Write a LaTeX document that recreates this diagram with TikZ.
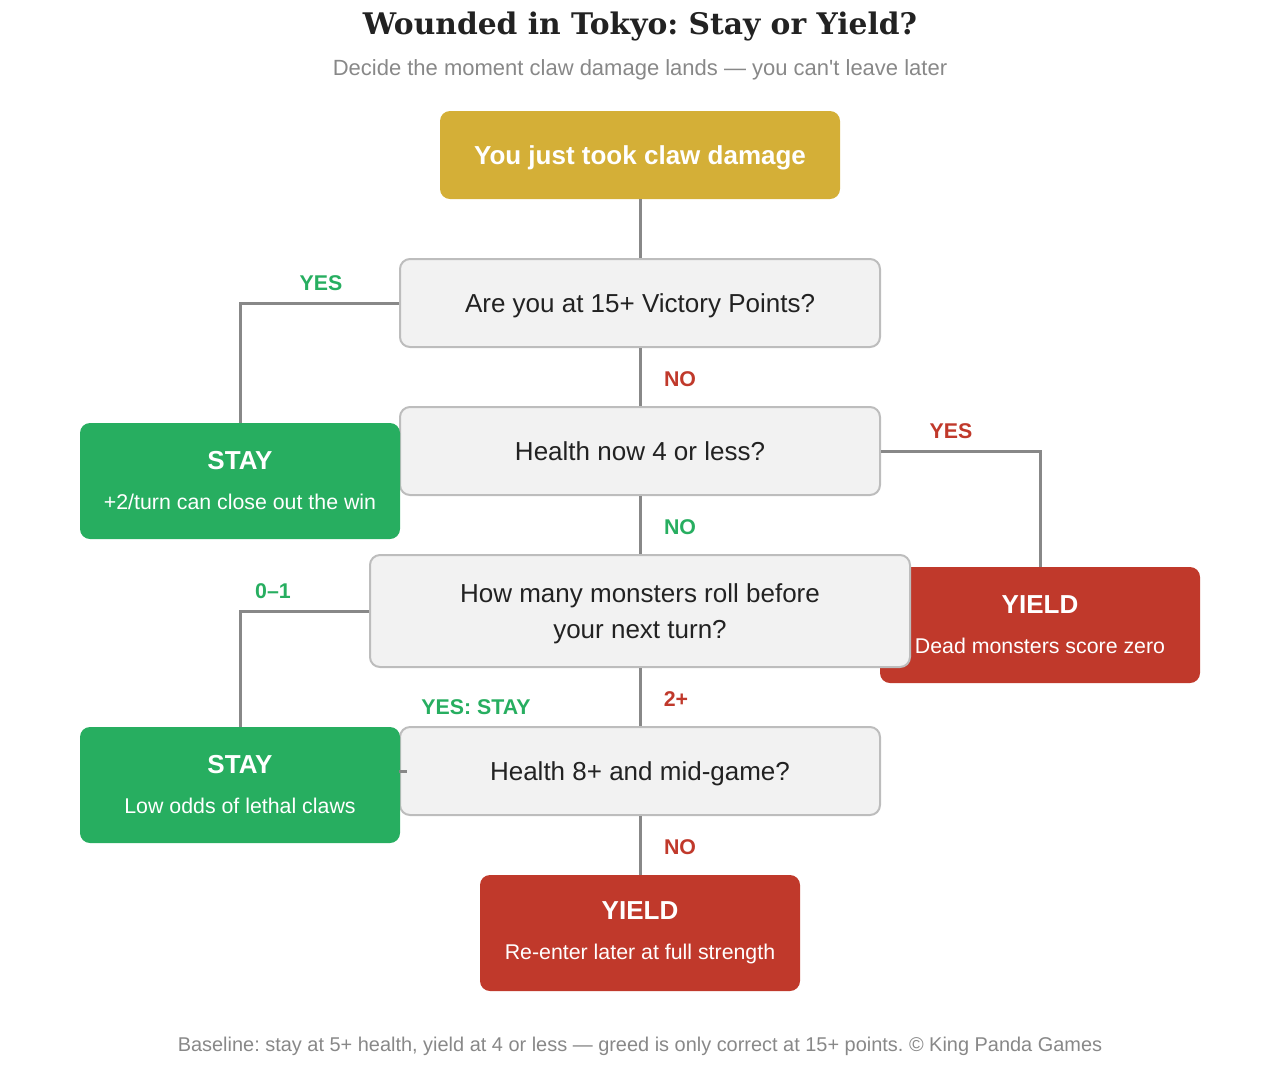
\documentclass[tikz,border=0pt]{standalone}
\usepackage{fontspec}
\setmainfont{Liberation Sans}
\newfontfamily\headfont{DejaVu Serif}
\frenchspacing
\usetikzlibrary{positioning}
\definecolor{wtGold}{HTML}{D4AF37}
\definecolor{wtGreen}{HTML}{27AE60}
\definecolor{wtRed}{HTML}{C0392B}
\definecolor{wtBox}{HTML}{F2F2F2}
\definecolor{wtBorder}{HTML}{BDBDBD}
\definecolor{wtLine}{HTML}{888888}
\definecolor{wtInk}{HTML}{222222}
\definecolor{wtMuted}{HTML}{888888}

\begin{document}
\begin{tikzpicture}[x=0.75pt, y=-0.75pt,
    question/.style={draw=wtBorder, line width=1.5pt, rounded corners=7.5pt, fill=wtBox, text=wtInk, minimum width=360pt, minimum height=66pt, align=center, inner sep=0pt, text depth=0pt, font=\fontsize{19.5}{27}\selectfont},
    start/.style={fill=wtGold, rounded corners=7.5pt, text=white, minimum width=300pt, minimum height=66pt, inner sep=0pt, text depth=0pt, font=\fontsize{19.5}{23}\selectfont\bfseries},
    verdict/.style={rounded corners=7.5pt, text=white, minimum width=240pt, minimum height=87pt, align=center, inner sep=0pt, font=\fontsize{16}{20}\selectfont},
    stay/.style={verdict, fill=wtGreen},
    yield/.style={verdict, fill=wtRed},
    link/.style={draw=wtLine, line width=2.25pt},
    goodlabel/.style={text=wtGreen, font=\fontsize{16}{19}\selectfont\bfseries},
    badlabel/.style={text=wtRed, font=\fontsize{16}{19}\selectfont\bfseries}
]
    \useasboundingbox (0,0) rectangle (1280,1065);

    % Heading
    \node[text=wtInk, font=\headfont\bfseries\fontsize{22.3}{26}\selectfont] (title) at (640,27) {Wounded in Tokyo: Stay or Yield?};
    \node[text=wtMuted, font=\fontsize{16.5}{19}\selectfont] (subtitle) at (640,70) {Decide the moment claw damage lands — you can\textquotesingle t leave later};

    % Questions
    \node[start] (start) at (640,155) {You just took claw damage};
    \node[question] (q1) at (640,303) {Are you at 15+ Victory Points?};
    \node[question] (q2) at (640,451) {Health now 4 or less?};

    % Outcomes
    \node[stay] (stay1) at (240,481) {{\fontsize{19.5}{20}\selectfont\bfseries STAY}\\[10pt]+2/turn can close out the win};
    \node[yield] (yield1) at (1040,625) {{\fontsize{19.5}{20}\selectfont\bfseries YIELD}\\[10pt]Dead monsters score zero};
    \node[question, minimum width=405pt, minimum height=84pt] (q3) at (640,611) {How many monsters roll before\\your next turn?};
    \node[question] (q4) at (640,771) {Health 8+ and mid-game?};
    \node[stay] (stay2) at (240,785) {{\fontsize{19.5}{20}\selectfont\bfseries STAY}\\[10pt]Low odds of lethal claws};
    \node[yield] (yield2) at (640,933) {{\fontsize{19.5}{20}\selectfont\bfseries YIELD}\\[10pt]Re-enter later at full strength};

    % Connectors
    \draw[link] (start) -- (q1);
    \draw[link] (q1.west) -| (stay1.north);
    \draw[link] (q1) -- (q2);
    \draw[link] (q2.east) -| (yield1.north);
    \draw[link] (q2) -- (q3);
    \draw[link] (q3.west) -| (stay2.north);
    \draw[link] (q3) -- (q4);
    \coordinate (stub) at ([xshift=6pt]q4.west);
    \draw[link] (q4.west) -- (stub);
    \draw[link] (q4) -- (yield2);

    % Branch labels
    \node[goodlabel] (l1) at (321,283) {YES};
    \node[badlabel] (l2) at (680,379) {NO};
    \node[badlabel] (l3) at (951,431) {YES};
    \node[goodlabel] (l4) at (680,527) {NO};
    \node[goodlabel] (l5) at (273,591) {0–1};
    \node[badlabel] (l6) at (676,699) {2+};
    \node[goodlabel] (l7) at (476,707) {YES: STAY};
    \node[badlabel] (l8) at (680,847) {NO};

    % Footer
    \node[text=wtMuted, font=\fontsize{14.95}{18}\selectfont] (footer) at (640,1046) {Baseline: stay at 5+ health, yield at 4 or less — greed is only correct at 15+ points. © King Panda Games};
\end{tikzpicture}
\end{document}
